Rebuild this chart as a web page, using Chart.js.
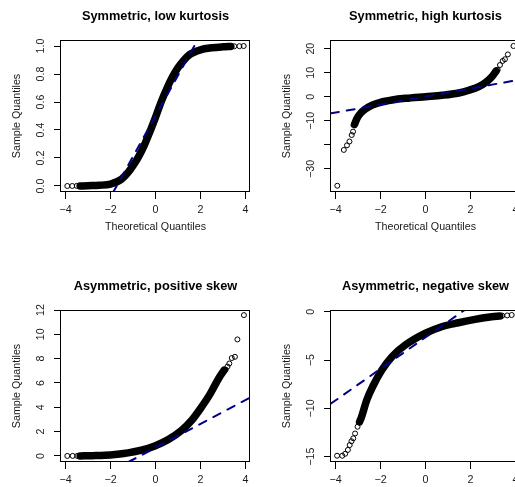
<!DOCTYPE html>
<html>
<head>
<meta charset="utf-8">
<script src="https://cdn.jsdelivr.net/npm/chart.js@4/dist/chart.umd.min.js"></script>
<style>
  html, body { margin: 0; padding: 0; background: #fff; overflow: hidden; }
  body { width: 515px; height: 487px; position: relative; }
  canvas { position: absolute; }
</style>
</head>
<body>
<canvas id="p1" width="270" height="270" style="left:0;top:0"></canvas>
<canvas id="p2" width="270" height="270" style="left:270px;top:0"></canvas>
<canvas id="p3" width="270" height="270" style="left:0;top:270px"></canvas>
<canvas id="p4" width="270" height="270" style="left:270px;top:270px"></canvas>
<script>
// values
const panelTitles = ['Symmetric, low kurtosis', 'Symmetric, high kurtosis',
                     'Asymmetric, positive skew', 'Asymmetric, negative skew'];
const xTicks = [-4, -2, 0, 2, 4];
const xTickLabels = ['\u22124', '\u22122', '0', '2', '4'];

// Symmetric, low kurtosis
const p1BandX = [-3.35, -3.0, -2.5, -2.0, -1.5, -1.2, -1.0, -0.75, -0.5, -0.25, 0, 0.25, 0.5, 0.75, 1.0, 1.25, 1.5, 2.0, 2.5, 3.0, 3.35];
const p1BandY = [0.0, 0.002, 0.005, 0.014, 0.05, 0.1, 0.145, 0.21, 0.29, 0.387, 0.49, 0.6, 0.695, 0.778, 0.845, 0.897, 0.937, 0.973, 0.987, 0.994, 0.997];
const p1TailX = [-3.92, -3.7, -3.5, 3.5, 3.73, 3.92];
const p1TailY = [0.0, 0.0, 0.001, 0.998, 0.999, 1.0];
const p1RefX = [-1.9, 1.9];
const p1RefY = [-0.05, 1.05];
const p1YTicks = [0, 0.2, 0.4, 0.6, 0.8, 1.0];
const p1YTickLabels = ['0.0', '0.2', '0.4', '0.6', '0.8', '1.0'];

// Symmetric, high kurtosis
const p2BandX = [-3.16, -3.04, -2.89, -2.67, -2.37, -2.0, -1.48, -0.89, 0, 0.74, 1.48, 1.93, 2.37, 2.67, 2.96, 3.14];
const p2BandY = [-11.6, -8.9, -6.9, -5.1, -3.5, -2.3, -1.33, -0.64, 0.05, 0.62, 1.58, 2.7, 4.2, 5.9, 8.4, 10.7];
const p2TailX = [-3.92, -3.63, -3.49, -3.38, -3.28, -3.22, 3.21, 3.31, 3.43, 3.53, 3.66, 3.91];
const p2TailY = [-37.0, -22.1, -20.2, -18.6, -15.9, -14.5, 11.2, 13.2, 14.9, 15.6, 17.6, 21.1];
const p2RefX = [-4.2, 4.2];
const p2RefY = [-6.9, 7.1];
const p2YTicks = [-30, -20, -10, 0, 10, 20];
const p2YTickLabels = ['\u221230', '', '\u221210', '0', '10', '20'];

// Asymmetric, positive skew
const p3BandX = [-3.35, -2.8, -2.26, -1.7, -1.22, -0.63, -0.03, 0.57, 1.16, 1.61, 2.05, 2.43, 2.8, 3.05];
const p3BandY = [0.0, 0.02, 0.05, 0.14, 0.25, 0.47, 0.82, 1.35, 2.1, 2.93, 4.03, 5.1, 6.35, 7.05];
const p3TailX = [-3.92, -3.68, -3.48, 3.12, 3.2, 3.28, 3.39, 3.53, 3.64, 3.93];
const p3TailY = [0.0, 0.0, 0.0, 7.1, 7.35, 7.6, 8.05, 8.15, 9.58, 11.58];
const p3RefX = [-1.2, 4.2];
const p3RefY = [-0.5, 4.8];
const p3YTicks = [0, 2, 4, 6, 8, 10, 12];
const p3YTickLabels = ['0', '2', '4', '6', '8', '10', '12'];

// Asymmetric, negative skew
const p4BandX = [-2.93, -2.84, -2.61, -2.31, -1.94, -1.49, -0.9, -0.02, 0.72, 1.46, 2.2, 2.94, 3.3];
const p4BandY = [-11.4, -10.86, -9.13, -7.58, -6.03, -4.65, -3.45, -2.24, -1.55, -1.14, -0.79, -0.52, -0.45];
const p4TailX = [-3.93, -3.7, -3.57, -3.45, -3.37, -3.29, -3.21, -3.13, -3.02, 3.41, 3.63, 3.83];
const p4TailY = [-14.9, -14.9, -14.7, -14.3, -13.8, -13.4, -13.1, -12.6, -11.9, -0.41, -0.38, -0.34];
const p4RefX = [-4.2, 1.75];
const p4RefY = [-9.5, 0.2];
const p4YTicks = [-15, -10, -5, 0];
const p4YTickLabels = ['\u221215', '\u221210', '\u22125', '0'];

const FONT = '"Liberation Sans", Arial, Helvetica, sans-serif';
const FONT_SIZE = 10.7;
Chart.defaults.font.family = FONT;
Chart.defaults.font.size = FONT_SIZE;
Chart.defaults.color = '#1a1a1a';

const pts = (xs, ys) => xs.map((x, i) => ({ x: x, y: ys[i] }));

// rotated y labels are centred at x - this keeps them in a fixed column
const measure = document.createElement('canvas').getContext('2d');
function yTickPad(labels) {
  measure.font = FONT_SIZE + 'px ' + FONT;
  const widest = Math.max(...labels.map(l => measure.measureText(l).width));
  return 12.5 - widest / 2;
}

// R style frame + main title
const frame = {
  id: 'frame',
  afterDraw(chart, args, opts) {
    const { ctx, chartArea: a } = chart;
    ctx.save();
    ctx.strokeStyle = '#000';
    ctx.lineWidth = 1;
    ctx.strokeRect(a.left - 0.5, a.top + 0.5, a.width, a.height - 1);
    ctx.fillStyle = '#000';
    ctx.font = 'bold 12.8px ' + FONT;
    ctx.textAlign = 'center';
    ctx.textBaseline = 'alphabetic';
    ctx.fillText(opts.title, (a.left + a.right) / 2, 19.5);
    ctx.restore();
  }
};

function makePanel(id, title, band, tail, ref, yMin, yMax, yTicks, yLabels) {
  new Chart(document.getElementById(id), {
    type: 'scatter',
    data: {
      datasets: [
        {
          data: ref,
          showLine: true,
          borderColor: '#00008B',
          borderWidth: 2,
          borderDash: [8, 8],
          borderCapStyle: 'round',
          pointRadius: 0,
          clip: 0
        },
        {
          data: tail,
          showLine: false,
          pointRadius: 2.5,
          pointBorderWidth: 1,
          pointBorderColor: '#000',
          pointBackgroundColor: 'rgba(0,0,0,0)'
        },
        {
          data: band,
          showLine: true,
          borderColor: '#000',
          borderWidth: 7.5,
          borderCapStyle: 'round',
          borderJoinStyle: 'round',
          cubicInterpolationMode: 'monotone',
          pointRadius: 0
        }
      ]
    },
    options: {
      responsive: false,
      animation: false,
      events: [],
      layout: { padding: { top: 40, right: 20, left: 0, bottom: 0 } },
      plugins: {
        legend: { display: false },
        tooltip: { enabled: false },
        frame: { title: title }
      },
      scales: {
        x: {
          type: 'linear',
          min: -4.2,
          max: 4.2,
          afterBuildTicks: s => { s.ticks = xTicks.map(v => ({ value: v })); },
          afterFit: s => { s.height = 78; },
          ticks: { autoSkip: false, maxRotation: 0, padding: 5, callback: (v, i) => xTickLabels[i] },
          grid: { drawOnChartArea: false, tickLength: 7, color: '#000' },
          border: { display: false },
          title: { display: true, text: 'Theoretical Quantiles', padding: { top: 0, bottom: 36.6 } }
        },
        y: {
          type: 'linear',
          min: yMin,
          max: yMax,
          afterBuildTicks: s => { s.ticks = yTicks.map(v => ({ value: v })); },
          afterFit: s => { s.width = 61; },
          ticks: {
            autoSkip: false, minRotation: 90, maxRotation: 90, crossAlign: 'center',
            padding: yTickPad(yLabels), callback: (v, i) => yLabels[i]
          },
          grid: { drawOnChartArea: false, tickLength: 7, color: '#000' },
          border: { display: false },
          title: { display: true, text: 'Sample Quantiles', padding: { top: 10.6, bottom: 0 } }
        }
      }
    },
    plugins: [frame]
  });
}

makePanel('p1', panelTitles[0], pts(p1BandX, p1BandY), pts(p1TailX, p1TailY), pts(p1RefX, p1RefY),
  -0.043, 1.043, p1YTicks, p1YTickLabels);
makePanel('p2', panelTitles[1], pts(p2BandX, p2BandY), pts(p2TailX, p2TailY), pts(p2RefX, p2RefY),
  -39.6, 23.6, p2YTicks, p2YTickLabels);
makePanel('p3', panelTitles[2], pts(p3BandX, p3BandY), pts(p3TailX, p3TailY), pts(p3RefX, p3RefY),
  -0.5, 12.0, p3YTicks, p3YTickLabels);
makePanel('p4', panelTitles[3], pts(p4BandX, p4BandY), pts(p4TailX, p4TailY), pts(p4RefX, p4RefY),
  -15.55, 0.18, p4YTicks, p4YTickLabels);
</script>
</body>
</html>
